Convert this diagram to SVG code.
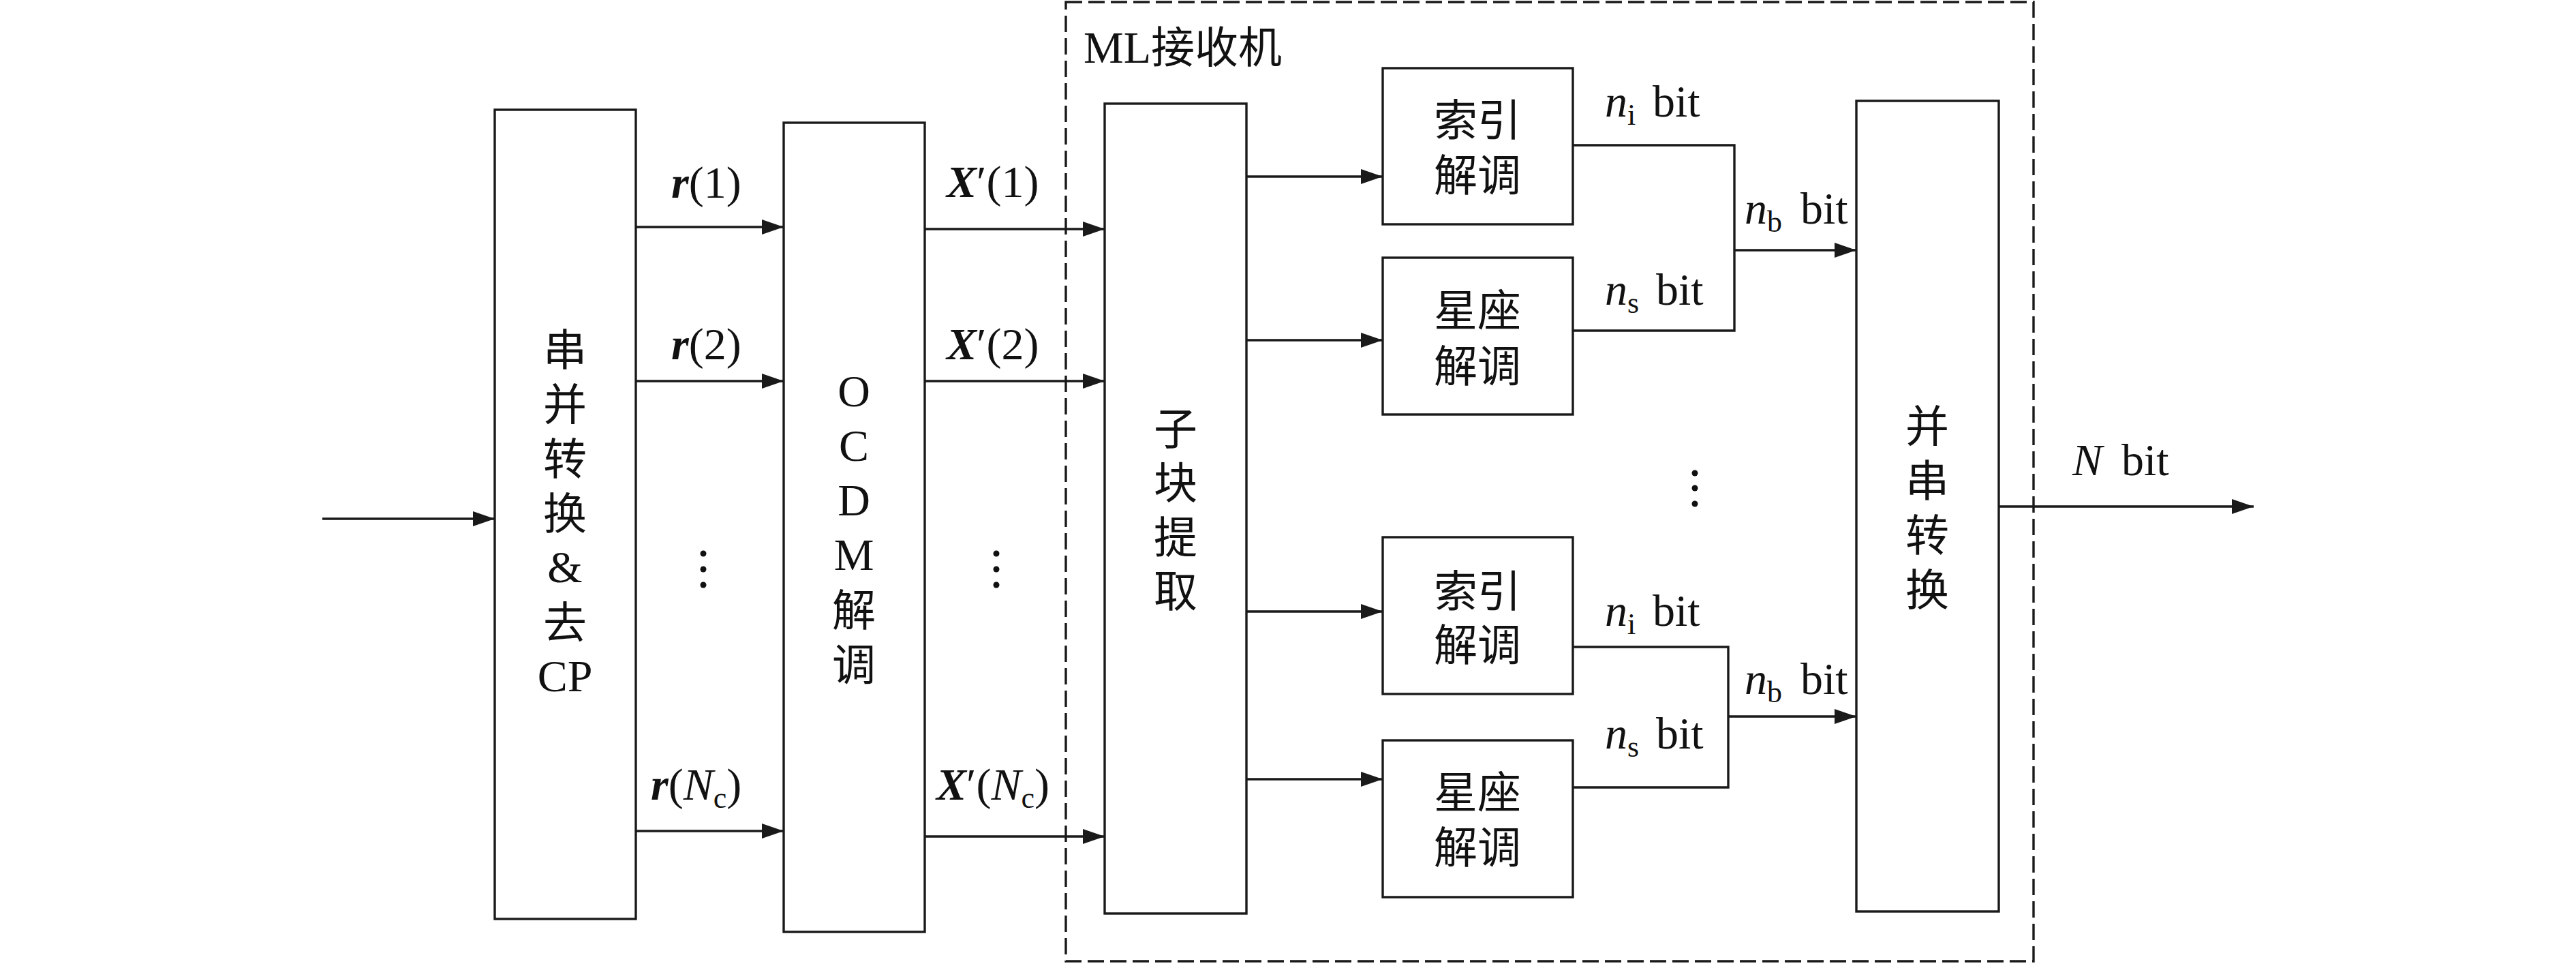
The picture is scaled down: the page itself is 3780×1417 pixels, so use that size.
<svg xmlns="http://www.w3.org/2000/svg" width="3780" height="1417" viewBox="0 0 3780 1417">
<style>
.box{fill:#fff;stroke:#1a1a1a;stroke-width:3.4}
.ln{fill:none;stroke:#1a1a1a;stroke-width:3.4}
.arr{marker-end:url(#ah)}
.frame{fill:none;stroke:#1a1a1a;stroke-width:3.4;stroke-dasharray:24 9}
.cj{font-family:"Liberation Serif","Noto Sans CJK SC",serif;font-size:64px;fill:#111;text-anchor:middle}
.lat{font-size:66px}
.m{font-family:"Liberation Serif","DejaVu Serif",serif;font-size:66px;fill:#111}
.it{font-style:italic}
.bi{font-style:italic;font-weight:bold}
.sub{font-size:44px;font-style:normal;font-weight:normal}
.dot{fill:#111}
</style>
<defs>
<marker id="ah" markerUnits="userSpaceOnUse" markerWidth="34" markerHeight="24" refX="32" refY="11" orient="auto">
<path d="M0,0 L32,11 L0,22 z" fill="#1a1a1a"/>
</marker>
</defs>
<rect x="0" y="0" width="3780" height="1417" fill="#fff"/>

<g id="ml-receiver-frame">
<rect class="frame" x="1564" y="3" width="1420" height="1407"/>
<text class="cj" x="1590" y="92" style="text-anchor:start"><tspan class="lat">ML</tspan>接收机</text>
</g>

<g id="connectors">
<path class="ln arr" d="M473,761 H726"/>
<path class="ln arr" d="M933,333 H1150"/>
<path class="ln arr" d="M933,559 H1150"/>
<path class="ln arr" d="M933,1219 H1150"/>
<path class="ln arr" d="M1357,336 H1621"/>
<path class="ln arr" d="M1357,559 H1621"/>
<path class="ln arr" d="M1357,1227 H1621"/>
<path class="ln arr" d="M1829,259 H2029"/>
<path class="ln arr" d="M1829,499 H2029"/>
<path class="ln arr" d="M1829,897 H2029"/>
<path class="ln arr" d="M1829,1143 H2029"/>
<path class="ln" d="M2308,213 H2545 V485 H2308"/>
<path class="ln arr" d="M2545,367 H2724"/>
<path class="ln" d="M2308,949 H2536 V1155 H2308"/>
<path class="ln arr" d="M2536,1051 H2724"/>
<path class="ln arr" d="M2933,743 H3307"/>
</g>

<g id="labels">
<text class="m" x="985" y="290"><tspan class="bi">r</tspan>(1)</text>
<text class="m" x="985" y="527"><tspan class="bi">r</tspan>(2)</text>
<text class="m" x="955" y="1173"><tspan class="bi">r</tspan>(<tspan class="it">N</tspan><tspan class="sub" dy="12">c</tspan><tspan dy="-12">)</tspan></text>
<text class="m" x="1389" y="289"><tspan class="bi">X</tspan>′(1)</text>
<text class="m" x="1389" y="527"><tspan class="bi">X</tspan>′(2)</text>
<text class="m" x="1374" y="1173"><tspan class="bi">X</tspan>′(<tspan class="it">N</tspan><tspan class="sub" dy="12">c</tspan><tspan dy="-12">)</tspan></text>
<text class="m" x="2355" y="171"><tspan class="it">n</tspan><tspan class="sub" dy="12">i</tspan><tspan x="2425" dy="-12">bit</tspan></text>
<text class="m" x="2355" y="447"><tspan class="it">n</tspan><tspan class="sub" dy="12">s</tspan><tspan x="2430" dy="-12">bit</tspan></text>
<text class="m" x="2560" y="328"><tspan class="it">n</tspan><tspan class="sub" dy="12">b</tspan><tspan x="2642" dy="-12">bit</tspan></text>
<text class="m" x="2355" y="918"><tspan class="it">n</tspan><tspan class="sub" dy="12">i</tspan><tspan x="2425" dy="-12">bit</tspan></text>
<text class="m" x="2355" y="1098"><tspan class="it">n</tspan><tspan class="sub" dy="12">s</tspan><tspan x="2430" dy="-12">bit</tspan></text>
<text class="m" x="2560" y="1018"><tspan class="it">n</tspan><tspan class="sub" dy="12">b</tspan><tspan x="2642" dy="-12">bit</tspan></text>
<text class="m" x="3041" y="697"><tspan class="it">N</tspan><tspan x="3113">bit</tspan></text>
<circle class="dot" cx="1032" cy="812" r="4.5"/>
<circle class="dot" cx="1032" cy="835" r="4.5"/>
<circle class="dot" cx="1032" cy="858" r="4.5"/>
<circle class="dot" cx="1462" cy="812" r="4.5"/>
<circle class="dot" cx="1462" cy="835" r="4.5"/>
<circle class="dot" cx="1462" cy="858" r="4.5"/>
<circle class="dot" cx="2487" cy="694" r="4.5"/>
<circle class="dot" cx="2487" cy="716" r="4.5"/>
<circle class="dot" cx="2487" cy="739" r="4.5"/>
</g>

<g id="node-sp-cp">
<rect class="box" x="726" y="161" width="207" height="1187"/>
<text class="cj"><tspan x="829" y="536">串</tspan><tspan x="829" y="616">并</tspan><tspan x="829" y="696">转</tspan><tspan x="829" y="776">换</tspan><tspan class="lat" x="829" y="854">&amp;</tspan><tspan x="829" y="936">去</tspan><tspan class="lat" x="829" y="1014">CP</tspan></text>
</g>

<g id="node-ocdm">
<rect class="box" x="1150" y="180" width="207" height="1187"/>
<text class="cj"><tspan class="lat" x="1253" y="596">O</tspan><tspan class="lat" x="1253" y="676">C</tspan><tspan class="lat" x="1253" y="756">D</tspan><tspan class="lat" x="1253" y="836">M</tspan><tspan x="1253" y="918">解</tspan><tspan x="1253" y="998">调</tspan></text>
</g>

<g id="node-subblock">
<rect class="box" x="1621" y="152" width="208" height="1188"/>
<text class="cj"><tspan x="1725" y="652">子</tspan><tspan x="1725" y="731">块</tspan><tspan x="1725" y="811">提</tspan><tspan x="1725" y="890">取</tspan></text>
</g>

<g id="node-index-1">
<rect class="box" x="2029" y="100" width="279" height="229"/>
<text class="cj"><tspan x="2168" y="199">索引</tspan><tspan x="2168" y="280">解调</tspan></text>
</g>

<g id="node-const-1">
<rect class="box" x="2029" y="378" width="279" height="230"/>
<text class="cj"><tspan x="2168" y="478">星座</tspan><tspan x="2168" y="560">解调</tspan></text>
</g>

<g id="node-index-2">
<rect class="box" x="2029" y="788" width="279" height="230"/>
<text class="cj"><tspan x="2168" y="890">索引</tspan><tspan x="2168" y="969">解调</tspan></text>
</g>

<g id="node-const-2">
<rect class="box" x="2029" y="1086" width="279" height="230"/>
<text class="cj"><tspan x="2168" y="1185">星座</tspan><tspan x="2168" y="1266">解调</tspan></text>
</g>

<g id="node-ps">
<rect class="box" x="2724" y="148" width="209" height="1189"/>
<text class="cj"><tspan x="2828" y="648">并</tspan><tspan x="2828" y="728">串</tspan><tspan x="2828" y="808">转</tspan><tspan x="2828" y="888">换</tspan></text>
</g>
</svg>
